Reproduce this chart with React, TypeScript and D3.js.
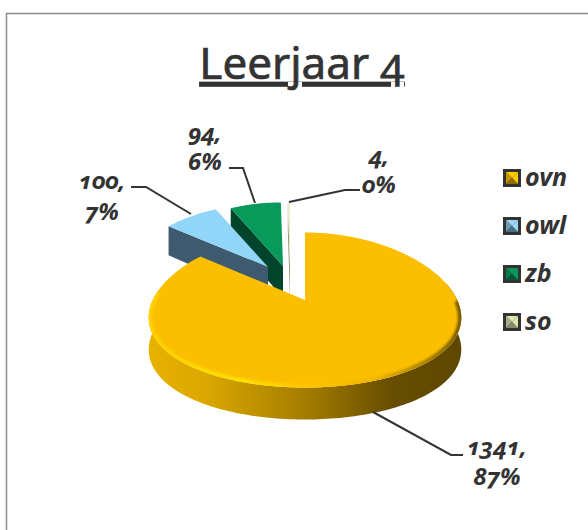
import React from "react";
import * as d3 from "d3";

const categories = ["ovn", "owl", "zb", "so"];
const values = [1341, 100, 94, 4];
const percents = ["87%", "7%", "6%", "0%"];
const colors = ["#FBBF00", "#91D5F8", "#079A5A", "#E8EEC8"];
const wallColors = ["#A87F00", "#3E5A6E", "#00452B", "#8F9578"];
const legendTop = ["#FFCC00", "#9FD8F6", "#079A5A", "#DDE5B0"];
const legendSide = ["#C79600", "#6C9CB8", "#067A4A", "#A8AE88"];
const legendBottom = ["#8F6D00", "#4A6F86", "#00543A", "#868C6C"];

const W = 588, H = 530;
const DEPTH = 32;
const apexes: [number, number][] = [[305, 300], [268, 267], [283, 266], [290, 266]];
const radiusScale = [1, 0.95, 0.95, 0.95];
const labelPos = [
  { x: 497, y1: 455, y2: 485 },
  { x: 102, y1: 189, y2: 220 },
  { x: 205, y1: 141, y2: 170 },
  { x: 379, y1: 164, y2: 193 },
];
const leaders: [number, number][][] = [
  [[373, 412], [451, 455], [463, 455]],
  [[191, 214], [146, 187], [131, 187]],
  [[255, 203], [243, 168], [229, 168]],
  [[289, 202], [345, 190], [360, 190]],
];
const FONT = "'Noto Sans', 'Open Sans', Lato, sans-serif";

const arcs = d3.pie<number>().sort(null).startAngle(0).endAngle(2 * Math.PI)(values);

function project(a: number, apex: [number, number], k = 1): [number, number] {
  return [
    apex[0] + k * 155.5 * Math.sin(a) * (1 - 0.1 * Math.cos(a)),
    apex[1] + 10 - k * 77.5 * Math.cos(a),
  ];
}
const line = d3.line();
function samples(a0: number, a1: number, apex: [number, number], k = 1) {
  const n = Math.max(2, Math.ceil(Math.abs(a1 - a0) * 40));
  return d3.range(n + 1).map((i) => project(a0 + ((a1 - a0) * i) / n, apex, k));
}
const facePath = (i: number) =>
  line([apexes[i], ...samples(arcs[i].startAngle, arcs[i].endAngle, apexes[i], radiusScale[i])]) + "Z";
const sideQuad = (i: number) => {
  const ap = apexes[i];
  const c = project(arcs[i].startAngle, ap, radiusScale[i]);
  return line([c, ap, [ap[0], ap[1] + DEPTH], [c[0], c[1] + DEPTH - 3]]) + "Z";
};
const rad = (d: number) => (d * Math.PI) / 180;
const wallPath = () => {
  const up = samples(rad(70), rad(285), apexes[0]);
  const down = up.map(([x, y]) => [x, y + DEPTH] as [number, number]).reverse();
  return line([...up, ...down]) + "Z";
};

function Swatch({ i, x, y }: { i: number; x: number; y: number }) {
  const s = 18, b = 3;
  const l = x + b, r = x + s - b, t = y + b, u = y + s - b;
  const cx = x + s / 2, cy = y + s / 2;
  return (
    <g>
      <rect x={x} y={y} width={s} height={s} fill="#333" />
      <path d={`M${l},${t}L${r},${t}L${cx},${cy}Z`} fill={legendTop[i]} />
      <path d={`M${r},${t}L${r},${u}L${cx},${cy}Z`} fill={legendTop[i]} />
      <path d={`M${l},${t}L${l},${u}L${cx},${cy}Z`} fill={legendSide[i]} />
      <path d={`M${l},${u}L${r},${u}L${cx},${cy}Z`} fill={legendBottom[i]} />
    </g>
  );
}

export default function App() {
  const legendY = [169, 217, 265, 313];
  return (
    <svg width={W} height={H} style={{ position: "fixed", left: 0, top: 0, background: "#fff" }} fontFamily={FONT}>
      <defs>
        <linearGradient id="wall" gradientUnits="userSpaceOnUse" x1="149" x2="462" y1="0" y2="0">
          <stop offset="0" stopColor="#E8B200" />
          <stop offset="0.18" stopColor="#DBA700" />
          <stop offset="0.5" stopColor="#A47C00" />
          <stop offset="0.78" stopColor="#664D00" />
          <stop offset="1" stopColor="#5E4700" />
        </linearGradient>
        <linearGradient id="bevel" gradientUnits="userSpaceOnUse" x1="149" x2="462" y1="0" y2="0">
          <stop offset="0" stopColor="#FFD000" />
          <stop offset="0.3" stopColor="#FFE000" />
          <stop offset="0.5" stopColor="#FFC400" />
          <stop offset="0.72" stopColor="#F0B600" />
          <stop offset="0.9" stopColor="#A07A00" />
          <stop offset="1" stopColor="#7A5C00" />
        </linearGradient>
        <clipPath id="topClip"><path d={facePath(0)} /></clipPath>
        <filter id="soft" x="-5%" y="-5%" width="110%" height="110%"><feGaussianBlur stdDeviation="1.2" /></filter>
      </defs>

      <path d={`M6.5,${H}V13.5H${W}`} fill="none" stroke="#8C8C8C" strokeWidth={1.5} />

      <text x={302} y={79} textAnchor="middle" fontSize={44} fill="#333" stroke="#333" strokeWidth={0.7} textDecoration="underline"
        style={{ fontFeatureSettings: '"onum"', textDecorationSkipInk: "none" }}>Leerjaar 4</text>

      {[3, 2, 1].map((i) => (
        <g key={categories[i]}>
          <path d={sideQuad(i)} fill={wallColors[i]} />
          <path d={facePath(i)} fill={colors[i]} />
        </g>
      ))}

      <path d={wallPath()} fill="url(#wall)" />
      <path d={facePath(0)} fill={colors[0]} />
      <g clipPath="url(#topClip)">
        <path d={line(samples(rad(85), rad(282), apexes[0]))!} fill="none" stroke="url(#bevel)" strokeWidth={7} strokeLinecap="round" filter="url(#soft)" />
      </g>

      {leaders.map((pts, i) => (
        <path key={i} d={line(pts)!} fill="none" stroke="#333" strokeWidth={2} />
      ))}

      <g fontSize={24} fontWeight={700} fontStyle="italic" fill="#333" textAnchor="middle"
        style={{ fontFeatureSettings: '"onum"' }}>
        {categories.map((c, i) => (
          <g key={c}>
            <text x={labelPos[i].x} y={labelPos[i].y1}>{values[i]},</text>
            <text x={labelPos[i].x} y={labelPos[i].y2}>{percents[i]}</text>
          </g>
        ))}
      </g>

      {categories.map((c, i) => (
        <g key={c}>
          <Swatch i={i} x={503} y={legendY[i]} />
          <text x={525} y={legendY[i] + 17} fontSize={25} fontWeight={700} fontStyle="italic" fill="#333">{c}</text>
        </g>
      ))}
    </svg>
  );
}
